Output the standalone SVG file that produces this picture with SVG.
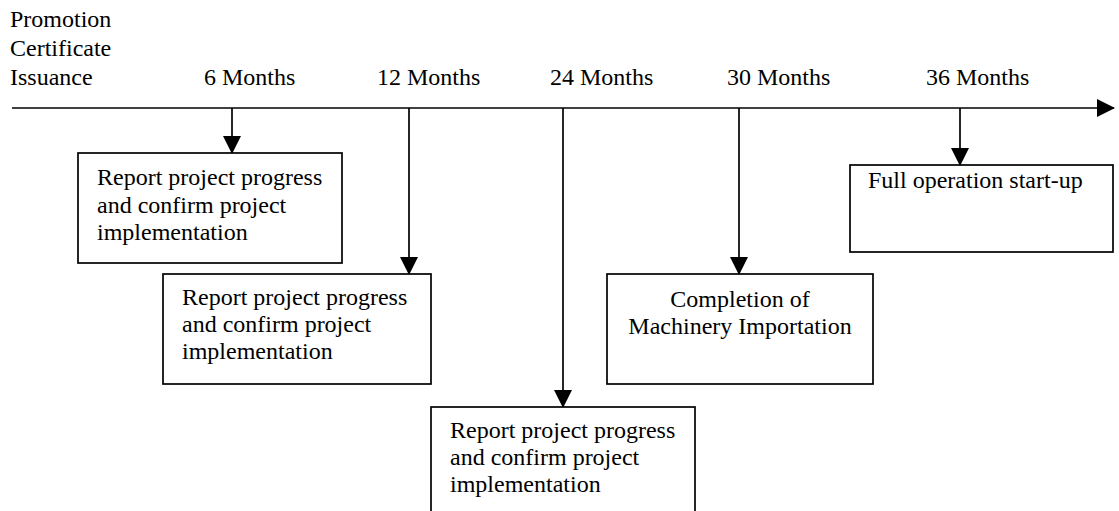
<svg xmlns="http://www.w3.org/2000/svg" width="1119" height="511" viewBox="0 0 1119 511">
<defs>
<style>
text{font-family:"Liberation Serif","Times New Roman",serif;font-size:24px;fill:#000}
.box{fill:#fff;stroke:#000;stroke-width:1.7}
.ln{stroke:#000;stroke-width:1.7;fill:none}
.mid{text-anchor:middle}
</style>
<marker id="ah" markerUnits="userSpaceOnUse" markerWidth="18" markerHeight="18" viewBox="0 0 18 18" refX="17" refY="9" orient="auto">
<path d="M0,0 L18,9 L0,18 Z" fill="#000"/>
</marker>
</defs>
<rect width="1119" height="511" fill="#fff"/>
<g id="labels">
<text x="10" y="27">Promotion</text>
<text x="10" y="56">Certificate</text>
<text x="10" y="85">Issuance</text>
<text x="204" y="85">6 Months</text>
<text x="377" y="85">12 Months</text>
<text x="550" y="85">24 Months</text>
<text x="727" y="85">30 Months</text>
<text x="926" y="85">36 Months</text>
</g>
<g id="connectors">
<line class="ln" x1="12" y1="108" x2="1114" y2="108" marker-end="url(#ah)"/>
<line class="ln" x1="232" y1="108" x2="232" y2="153" marker-end="url(#ah)"/>
<line class="ln" x1="409" y1="108" x2="409" y2="274" marker-end="url(#ah)"/>
<line class="ln" x1="563" y1="108" x2="563" y2="407" marker-end="url(#ah)"/>
<line class="ln" x1="739" y1="108" x2="739" y2="274" marker-end="url(#ah)"/>
<line class="ln" x1="960" y1="108" x2="960" y2="165" marker-end="url(#ah)"/>
</g>
<g id="node1">
<rect class="box" x="78" y="153" width="264" height="110"/>
<text x="97" y="185">Report project progress</text>
<text x="97" y="213">and confirm project</text>
<text x="97" y="240">implementation</text>
</g>
<g id="node2">
<rect class="box" x="163" y="274" width="268" height="110"/>
<text x="182" y="305">Report project progress</text>
<text x="182" y="332">and confirm project</text>
<text x="182" y="359">implementation</text>
</g>
<g id="node3">
<rect class="box" x="431" y="407" width="264" height="110"/>
<text x="450" y="438">Report project progress</text>
<text x="450" y="465">and confirm project</text>
<text x="450" y="492">implementation</text>
</g>
<g id="node4">
<rect class="box" x="607" y="274" width="266" height="110"/>
<text class="mid" x="740" y="307">Completion of</text>
<text class="mid" x="740" y="334">Machinery Importation</text>
</g>
<g id="node5">
<rect class="box" x="850" y="165" width="263" height="87"/>
<text x="868" y="188">Full operation start-up</text>
</g>
</svg>
